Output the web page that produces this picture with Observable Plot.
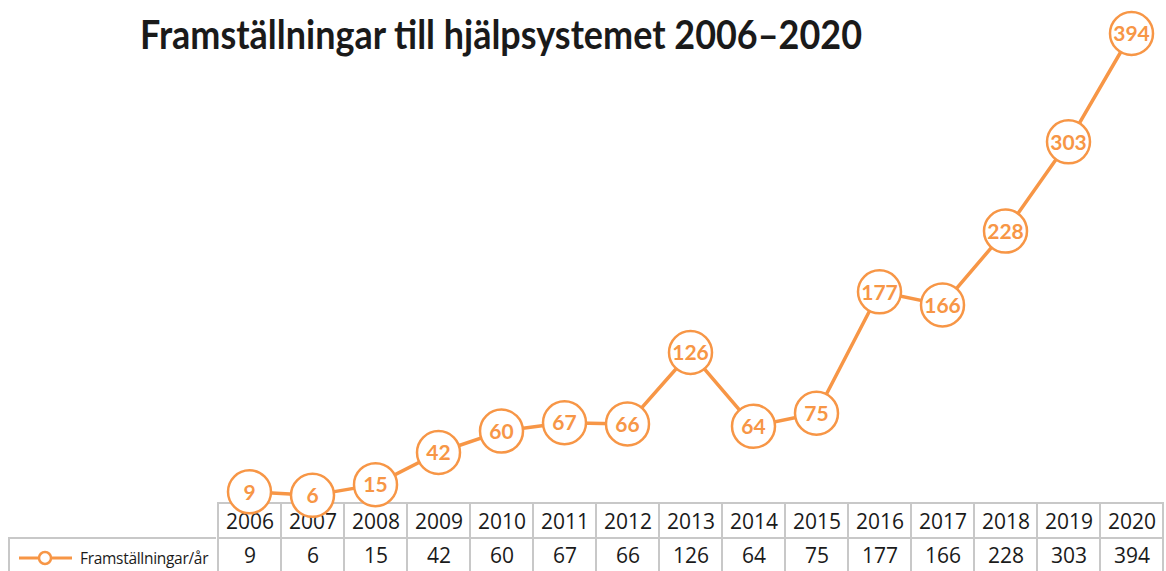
<!DOCTYPE html>
<html>
<head>
<meta charset="utf-8">
<script src="https://cdn.jsdelivr.net/npm/d3@7"></script>
<script src="https://cdn.jsdelivr.net/npm/@observablehq/plot@0.6"></script>
<style>
  html, body { margin: 0; padding: 0; background: white; }
  #wrap { position: relative; width: 1166px; height: 571px; overflow: hidden; background: white; }
  #title { position: absolute; left: 140px; top: 14px; font-family: Lato, sans-serif; font-weight: 700;
           font-size: 40px; line-height: 1; color: #1a1a1a; white-space: nowrap; transform-origin: left top; }
  .abs { position: absolute; left: 0; top: 0; }
  #legend { position: absolute; left: 8px; top: 537px; width: 208px; height: 40px; box-sizing: border-box;
            border: 2px solid #c8c8c8; border-right: none; background: white;
            font-family: "Open Sans", sans-serif; font-size: 15.5px; color: #1a1a1a; }
  #legend svg { position: absolute; left: 7px; top: 9px; }
  #legend span { position: absolute; left: 70px; top: 8px; white-space: nowrap; letter-spacing: -0.3px; }
</style>
</head>
<body>
<div id="wrap"></div>
<script>
// ---- data ----
const years = [2006, 2007, 2008, 2009, 2010, 2011, 2012, 2013, 2014, 2015, 2016, 2017, 2018, 2019, 2020];
const values = [9, 6, 15, 42, 60, 67, 66, 126, 64, 75, 177, 166, 228, 303, 394];
const seriesName = "Framställningar/år";
const titleText = "Framställningar till hjälpsystemet 2006–2020";
const rowKeys = ["year", "value"];

const orange = "#f79646";
const data = years.map((y, i) => ({year: y, value: values[i]}));
const tableData = [
  ...years.map(y => ({year: y, row: "year", label: String(y)})),
  ...years.map((y, i) => ({year: y, row: "value", label: String(values[i])}))
];

const wrap = document.getElementById("wrap");

// ---- table (drawn first, below the line) ----
const table = Plot.plot({
  width: 1166,
  height: 72,
  margin: 0,
  style: {background: "transparent", overflow: "visible"},
  x: {type: "band", domain: years, range: [216, 1164], padding: 0, axis: null},
  y: {type: "band", domain: rowKeys, range: [1, 72], padding: 0, axis: null},
  marks: [
    Plot.cell(tableData, {x: "year", y: "row", fill: "white", stroke: "#c8c8c8", strokeWidth: 2}),
    Plot.text(tableData.filter(d => d.row === "year"), {x: "year", y: "row", text: "label",
      fontFamily: "Open Sans", fontSize: 21, fill: "#1a1a1a", dy: 1}),
    Plot.text(tableData.filter(d => d.row === "value"), {x: "year", y: "row", text: "label",
      fontFamily: "Open Sans", fontSize: 21, fill: "#1a1a1a", dy: 0})
  ]
});
table.classList.add("abs");
table.style.top = "501px";
wrap.appendChild(table);

// ---- legend cell ----
const legend = document.createElement("div");
legend.id = "legend";
legend.innerHTML = `<svg width="60" height="20"><line x1="2" y1="10" x2="55" y2="10" stroke="${orange}" stroke-width="3"/>
  <circle cx="28" cy="10" r="6" fill="white" stroke="${orange}" stroke-width="2.5"/></svg><span>${seriesName}</span>`;
wrap.appendChild(legend);

// ---- line chart ----
const chart = Plot.plot({
  width: 1166,
  height: 571,
  margin: 0,
  style: {background: "transparent", overflow: "visible"},
  x: {type: "point", domain: years, range: [216, 1164], padding: 0.5, axis: null},
  y: {domain: [0, 394], range: [502, 33], axis: null},
  marks: [
    Plot.line(data, {x: "year", y: "value", stroke: orange, strokeWidth: 3.5}),
    Plot.dot(data, {x: "year", y: "value", r: 21.5, fill: "white", stroke: orange, strokeWidth: 2.5}),
    Plot.text(data, {x: "year", y: "value", text: d => String(d.value), fill: orange,
      fontFamily: "Lato", fontWeight: "bold", fontSize: 21, dy: 1})
  ]
});
chart.classList.add("abs");
wrap.appendChild(chart);

// ---- title ----
const title = document.createElement("div");
title.id = "title";
title.textContent = titleText;
wrap.appendChild(title);
const w = title.getBoundingClientRect().width;
title.style.transform = `scaleX(${722 / w})`;
</script>
</body>
</html>
